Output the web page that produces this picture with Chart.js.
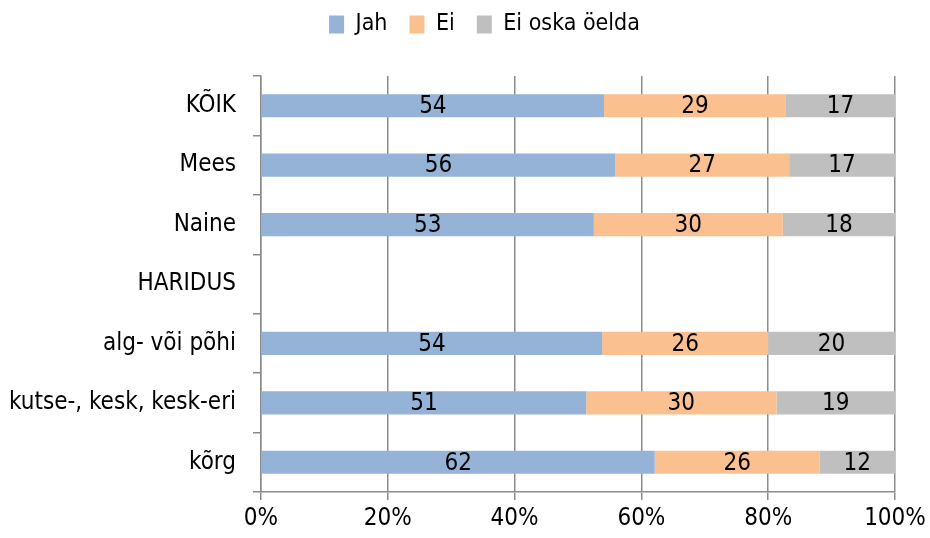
<!DOCTYPE html>
<html>
<head>
<meta charset="utf-8">
<script src="https://cdn.jsdelivr.net/npm/chart.js@4"></script>
<style>
  html, body { margin: 0; padding: 0; background: #fff; }
  #wrap { width: 930px; height: 538px; }
</style>
</head>
<body>
<div id="wrap"><canvas id="chart" width="930" height="538"></canvas></div>
<script>
// ── Data (percent shares) ───────────────────────────────────────────────
const categories = ['KÕIK', 'Mees', 'Naine', 'HARIDUS', 'alg- või põhi', 'kutse-, kesk, kesk-eri', 'kõrg'];
const seriesNames = ['Jah', 'Ei', 'Ei oska öelda'];
const jah     = [54.1, 55.9, 52.5, null, 53.8, 51.3, 62.1];
const ei      = [28.7, 27.4, 29.8, null, 26.2, 30.0, 26.0];
const eiOska  = [17.2, 16.7, 17.7, null, 20.0, 18.7, 11.9];
const xTicks  = [0, 20, 40, 60, 80, 100];

const FONT = "'Liberation Sans Narrow', 'DejaVu Sans Condensed', sans-serif";
const GRID = '#8c8c8c';

// Draw the rounded value in the middle of each bar segment
const barLabels = {
  id: 'barLabels',
  afterDatasetsDraw(chart) {
    const ctx = chart.ctx;
    ctx.save();
    ctx.font = '24px ' + FONT;
    ctx.fillStyle = '#000';
    ctx.textAlign = 'center';
    ctx.textBaseline = 'middle';
    chart.data.datasets.forEach((ds, i) => {
      chart.getDatasetMeta(i).data.forEach((bar, j) => {
        const v = ds.data[j];
        if (v == null) return;
        const p = bar.getProps(['x', 'y', 'base'], true);
        ctx.fillText(Math.round(v), (p.x + p.base) / 2, p.y + 1);
      });
    });
    ctx.restore();
  }
};

// Fixed legend height so the plot starts where the original does,
// then nudge the legend a bit right/up to sit like the original
const legendSpace = {
  id: 'legendSpace',
  beforeInit(chart) {
    const fit = chart.legend.fit;
    chart.legend.fit = function () {
      fit.call(this);
      this.height = 76;
    };
  },
  afterLayout(chart) {
    const lg = chart.legend;
    lg.left += 37; lg.right += 37;
    lg.top -= 9; lg.bottom -= 9;
  }
};

new Chart(document.getElementById('chart'), {
  type: 'bar',
  data: {
    labels: categories,
    datasets: [
      { label: seriesNames[0], data: jah,    backgroundColor: '#95b3d7' },
      { label: seriesNames[1], data: ei,     backgroundColor: '#fac090' },
      { label: seriesNames[2], data: eiOska, backgroundColor: '#bfbfbf' },
    ]
  },
  options: {
    indexAxis: 'y',
    responsive: false,
    animation: false,
    layout: { padding: { top: 0, right: 35, left: 0, bottom: 0 } },
    datasets: { bar: { categoryPercentage: 0.39, barPercentage: 1 } },
    scales: {
      x: {
        stacked: true,
        min: 0, max: 100,
        afterBuildTicks: s => { s.ticks = xTicks.map(v => ({ value: v })); },
        afterFit: s => { s.height = 46; },
        ticks: {
          callback: v => v + '%',
          color: '#000',
          font: { family: FONT, size: 24 },
          padding: 4,
          maxRotation: 0
        },
        grid: { color: GRID, lineWidth: 1.5, tickLength: 8, drawTicks: true },
        border: { color: GRID, width: 1.5 }
      },
      y: {
        stacked: true,
        afterFit: s => { s.width = 261; },
        ticks: {
          color: '#000',
          font: { family: FONT, size: 24 },
          padding: 17
        },
        grid: { drawOnChartArea: false, color: GRID, lineWidth: 1.5, tickLength: 8, offset: true },
        border: { color: GRID, width: 1.5 }
      }
    },
    plugins: {
      legend: {
        position: 'top',
        labels: {
          color: '#000',
          font: { family: FONT, size: 23 },
          boxWidth: 15,
          boxHeight: 18,
          padding: 22
        },
        onClick: null
      },
      tooltip: { enabled: false }
    }
  },
  plugins: [barLabels, legendSpace]
});
</script>
</body>
</html>
